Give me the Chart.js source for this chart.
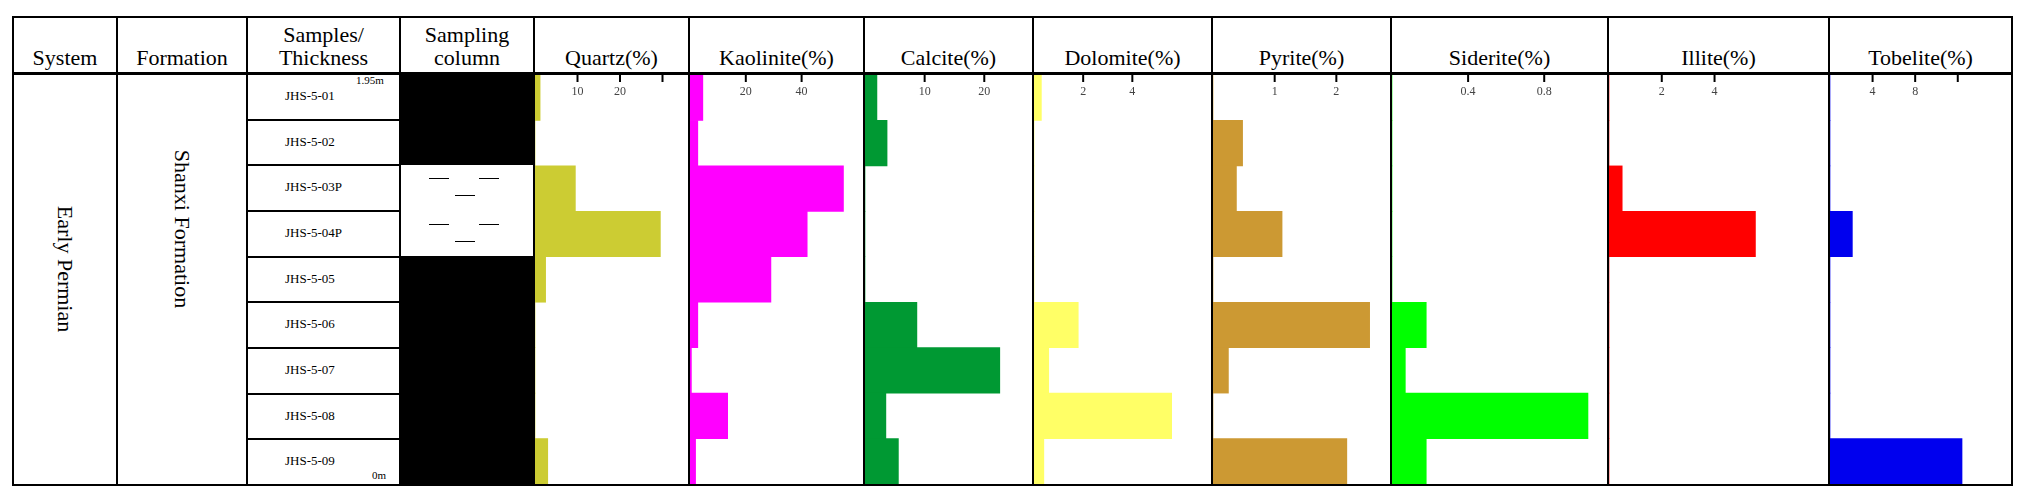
<!DOCTYPE html>
<html><head><meta charset="utf-8">
<script src="https://cdn.jsdelivr.net/npm/chart.js@4/dist/chart.umd.min.js"></script>
<style>
body{margin:0;background:#fff;font-family:"Liberation Serif",serif;}
#wrap{position:relative;width:2038px;height:502px;}
.ln{position:absolute;background:#000;}
.hd{position:absolute;font-size:22px;line-height:23px;text-align:center;display:flex;align-items:flex-end;justify-content:center;padding-bottom:4px;box-sizing:border-box;}
.smp{position:absolute;font-size:13px;}
.rot{position:absolute;font-size:22px;transform:translate(-50%,-50%) rotate(90deg);white-space:nowrap;}
canvas{position:absolute;}
</style></head><body>
<div id="wrap"></div>
<script>
const samples = ['JHS-5-01','JHS-5-02','JHS-5-03P','JHS-5-04P','JHS-5-05','JHS-5-06','JHS-5-07','JHS-5-08','JHS-5-09'];
const headers = ['System','Formation','Samples/<br>Thickness','Sampling<br>column','Quartz(%)','Kaolinite(%)','Calcite(%)','Dolomite(%)','Pyrite(%)','Siderite(%)','Illite(%)','Tobelite(%)'];
const quartz    = [1.2, 0, 9.5, 29.5, 2.5, 0, 0, 0, 3];
const kaolinite = [4.6, 2.8, 55, 42, 29, 2.8, 0.5, 13.5, 2];
const calcite   = [2, 3.7, 0, 0, 0, 8.7, 22.6, 3.5, 5.6];
const dolomite  = [0.3, 0, 0, 0, 0, 1.8, 0.6, 5.6, 0.4];
const pyrite    = [0, 0.48, 0.38, 1.12, 0, 2.54, 0.25, 0, 2.17];
const siderite  = [0, 0, 0, 0, 0, 0.18, 0.07, 1.03, 0.18];
const illite    = [0, 0, 0.5, 5.55, 0, 0, 0, 0, 0];
const tobelite  = [0, 0, 0, 2.1, 0, 0, 0, 0, 12.4];
const lithology = ['black','black','mud','mud','black','black','black','black','black'];

const minerals = [
  { data: quartz,    color: '#cccc33', max: 36,   ticks: [10, 20, 30], labels: ['10', '20', ''] },
  { data: kaolinite, color: '#ff00ff', max: 62,   ticks: [20, 40], labels: ['20', '40'] },
  { data: calcite,   color: '#009933', max: 28,   ticks: [10, 20], labels: ['10', '20'] },
  { data: dolomite,  color: '#ffff66', max: 7.2,  ticks: [2, 4], labels: ['2', '4'] },
  { data: pyrite,    color: '#cc9933', max: 2.87, ticks: [1, 2], labels: ['1', '2'] },
  { data: siderite,  color: '#00ff00', max: 1.13, ticks: [0.4, 0.8], labels: ['0.4', '0.8'] },
  { data: illite,    color: '#ff0000', max: 8.3,  ticks: [2, 4], labels: ['2', '4'] },
  { data: tobelite,  color: '#0000ee', max: 17,   ticks: [4, 8, 12], labels: ['4', '8', ''] }
];

const cols = [13, 117, 247, 400, 534, 689, 864, 1033, 1212, 1391, 1608, 1829, 2012];
const yTop = 16, hBot = 73, bot = 484;
const rowH = (bot - hBot) / samples.length;
const wrap = document.getElementById('wrap');

function add(cls, css, html) {
  const d = document.createElement('div');
  d.className = cls;
  Object.assign(d.style, css);
  if (html) d.innerHTML = html;
  wrap.appendChild(d);
  return d;
}
function line(x, y, w, h) { add('ln', { left: x + 'px', top: y + 'px', width: w + 'px', height: h + 'px' }); }

// frame
line(cols[0], yTop, cols[12] - cols[0], 2);
line(cols[0], bot, cols[12] - cols[0], 2);
line(cols[0], hBot - 1, cols[12] - cols[0], 3);
cols.forEach((x) => line(x - 1, yTop, 2, bot - yTop + 2));

headers.forEach((h, i) => {
  add('hd', { left: cols[i] + 'px', top: yTop + 'px', width: (cols[i + 1] - cols[i]) + 'px', height: (hBot - yTop) + 'px' }, h);
});

add('rot', { left: (cols[0] + cols[1]) / 2 + 'px', top: (hBot + bot) / 2 - 10 + 'px' }, 'Early Permian');
add('rot', { left: (cols[1] + cols[2]) / 2 + 'px', top: (hBot + bot) / 2 - 50 + 'px' }, 'Shanxi Formation');

samples.forEach((s, i) => {
  const y = hBot + i * rowH;
  if (i > 0) line(cols[2], y, cols[3] - cols[2], 2);
  add('smp', { left: cols[2] + 38 + 'px', top: y + rowH / 2 - 8 + 'px' }, s);
  if (lithology[i] === 'black') {
    add('ln', { left: cols[3] + 'px', top: y + 'px', width: (cols[4] - cols[3]) + 'px', height: (rowH + 1) + 'px' });
  } else {
    const cx = cols[3] + (cols[4] - cols[3]) / 2;
    line(cx - 38, y + 14, 20, 1);
    line(cx + 12, y + 14, 20, 1);
    line(cx - 12, y + 31, 20, 1);
  }
});
add('smp', { left: cols[3] - 44 + 'px', top: hBot + 1 + 'px', fontSize: '11px' }, '1.95m');
add('smp', { left: cols[3] - 28 + 'px', top: bot - 15 + 'px', fontSize: '11px' }, '0m');

const tickPlugin = {
  id: 'topTicks',
  afterDraw(chart, _args, opts) {
    const ctx = chart.ctx;
    const xs = chart.scales.x;
    ctx.save();
    ctx.strokeStyle = '#000';
    ctx.fillStyle = '#444';
    ctx.lineWidth = 2;
    ctx.font = '12px "Liberation Serif"';
    ctx.textAlign = 'center';
    opts.ticks.forEach((t, k) => {
      const px = xs.getPixelForValue(t);
      ctx.beginPath();
      ctx.moveTo(px, 0);
      ctx.lineTo(px, 7);
      ctx.stroke();
      ctx.fillText(opts.labels[k], px, 20);
    });
    ctx.restore();
  }
};

minerals.forEach((m, i) => {
  const c = document.createElement('canvas');
  const x0 = cols[i + 4] + 1, x1 = cols[i + 5] - 1;
  c.style.left = x0 + 'px';
  c.style.top = (hBot + 2) + 'px';
  c.style.width = (x1 - x0) + 'px';
  c.style.height = (bot - hBot - 2) + 'px';
  c.width = x1 - x0;
  c.height = bot - hBot - 2;
  wrap.appendChild(c);
  new Chart(c.getContext('2d'), {
    type: 'bar',
    data: {
      labels: samples,
      datasets: [{ data: m.data, backgroundColor: m.color, categoryPercentage: 1, barPercentage: 1, borderSkipped: false }]
    },
    options: {
      indexAxis: 'y',
      responsive: false,
      animation: false,
      layout: { padding: 0 },
      plugins: { legend: { display: false }, tooltip: { enabled: false }, topTicks: { ticks: m.ticks, labels: m.labels } },
      scales: {
        x: { display: false, min: 0, max: m.max },
        y: { display: false }
      }
    },
    plugins: [tickPlugin]
  });
});
</script>
</body></html>
